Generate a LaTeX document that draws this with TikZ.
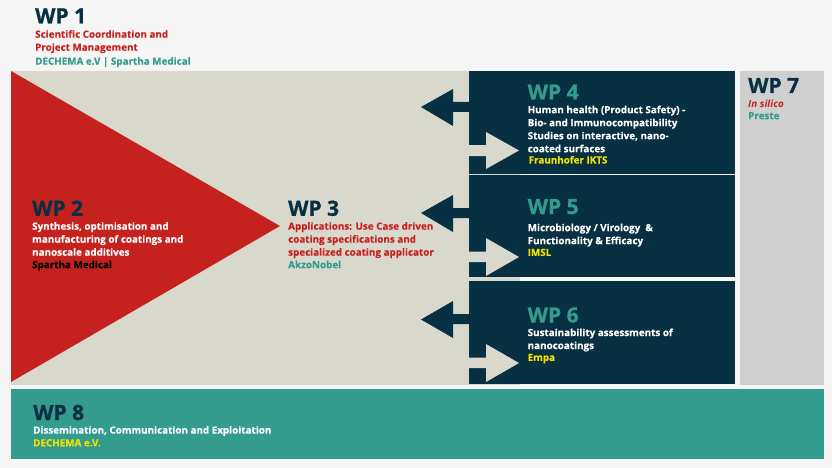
\documentclass[tikz,border=0pt]{standalone}
\usepackage{fontspec}
\setmainfont{Open Sans}[BoldFeatures={FakeBold=0.25}]
\newfontfamily\wpheadfont{Open Sans}[BoldFeatures={FakeBold=0.8}]
\definecolor{wpbg}{HTML}{F5F5F5}
\definecolor{wpnavy}{HTML}{073042}
\definecolor{wpred}{HTML}{C5221F}
\definecolor{wpteal}{HTML}{349C8F}
\definecolor{wpbeige}{HTML}{D8D8CC}
\definecolor{wpgray}{HTML}{CFCFCF}
\definecolor{wpyellow}{HTML}{F2E200}
\begin{document}
\begin{tikzpicture}[x=1pt,y=-1pt]
    \tikzstyle{wphead}=[anchor=base west,inner sep=0pt,font=\fontsize{21}{21}\selectfont\wpheadfont\bfseries]
    \tikzstyle{wpbody}=[anchor=north west,inner sep=0pt,align=left,execute at begin node=\strut,font=\fontsize{9.85}{13}\selectfont\bfseries]

      % panels
      \fill[wpbg] (0,0) rectangle (832,468);
      \fill[wpbeige] (11,71) rectangle (520,385);
      \fill[wpred] (11,71) -- (280,226) -- (11,382) -- cycle;
      \fill[wpnavy] (469,71) rectangle (735,173.5);
      \fill[wpnavy] (469,175) rectangle (735,277);
      \fill[wpnavy] (469,280.5) rectangle (735,384);
      \fill[wpgray] (740,71) rectangle (824,385);
      \fill[wpteal] (11,389) rectangle (824,459);

      % block arrows
      \fill[wpnavy] (469,102) -- (453,102) -- (453,89) -- (421,107) -- (453,126) -- (453,112) -- (469,112) -- cycle;
      \fill[wpbeige] (469,145) -- (486,145) -- (486,132) -- (519,150.5) -- (486,169) -- (486,156) -- (469,156) -- cycle;
      \fill[wpnavy] (469,208) -- (453,208) -- (453,195) -- (421,213) -- (453,232) -- (453,218) -- (469,218) -- cycle;
      \fill[wpbeige] (469,251.5) -- (486,251.5) -- (486,238) -- (519,257) -- (486,276) -- (486,262) -- (469,262) -- cycle;
      \fill[wpnavy] (469,314) -- (453,314) -- (453,301) -- (421,319.5) -- (453,338) -- (453,324) -- (469,324) -- cycle;
      \fill[wpbeige] (469,357.5) -- (486,357.5) -- (486,344) -- (519,363) -- (486,382) -- (486,368) -- (469,368) -- cycle;

      % WP 1
      \node (W1) at (35,23.3) [wphead,text=wpnavy] {WP 1};
      \node (T1) at (35,30) [wpbody,text=wpred] {Scientific Coordination and\\Project Management};
      \node (P1) at (35,55.4) [wpbody,text=wpteal] {DECHEMA e.V | Spartha Medical};

      % WP 2
      \node (W2) at (32,215.8) [wphead,text=wpnavy] {WP 2};
      \node (T2) at (32,222) [wpbody,text=white] {Synthesis, optimisation and\\manufacturing of coatings and\\nanoscale additives};
      \node (P2) at (32,258.9) [wpbody,text=black] {Spartha Medical};

      % WP 3
      \node (W3) at (288,215.8) [wphead,text=wpnavy] {WP 3};
      \node (T3) at (288,222) [wpbody,text=wpred] {Applications: Use Case driven\\coating specifications and\\specialized coating applicator};
      \node (P3) at (288,258.9) [wpbody,text=wpteal] {AkzoNobel};

      % WP 4
      \node (W4) at (527.5,99.5) [wphead,text=wpteal] {WP 4};
      \node (T4) at (527.5,105.5) [wpbody,text=white] {Human health (Product Safety) -\\Bio- and Immunocompatibility\\Studies on interactive, nano-\\coated surfaces};
      \node (P4) at (528.5,154.2) [wpbody,text=wpyellow] {Fraunhofer IKTS};

      % WP 5
      \node (W5) at (527.5,214) [wphead,text=wpteal] {WP 5};
      \node (T5) at (527.5,223.5) [wpbody,text=white] {Microbiology / Virology~ \&\\Functionality \& Efficacy};
      \node (P5) at (527.5,246.6) [wpbody,text=wpyellow] {IMSL};

      % WP 6
      \node (W6) at (527.5,322.5) [wphead,text=wpteal] {WP 6};
      \node (T6) at (527.5,328.3) [wpbody,text=white] {Sustainability assessments of\\nanocoatings};
      \node (P6) at (527.5,351.6) [wpbody,text=wpyellow] {Empa};

      % WP 7
      \node (W7) at (748,93) [wphead,text=wpnavy] {WP 7};
      \node (T7) at (748,97.9) [wpbody,text=wpred] {\itshape In silico};
      \node (P7) at (748,109.9) [wpbody,text=wpteal] {Preste};

      % WP 8
      \node (W8) at (33,420) [wphead,text=wpnavy] {WP 8};
      \node (T8) at (33,424.3) [wpbody,text=white] {Dissemination, Communication and Exploitation};
      \node (P8) at (33,437) [wpbody,text=wpyellow] {DECHEMA e.V.};
  \end{tikzpicture}
\end{document}
